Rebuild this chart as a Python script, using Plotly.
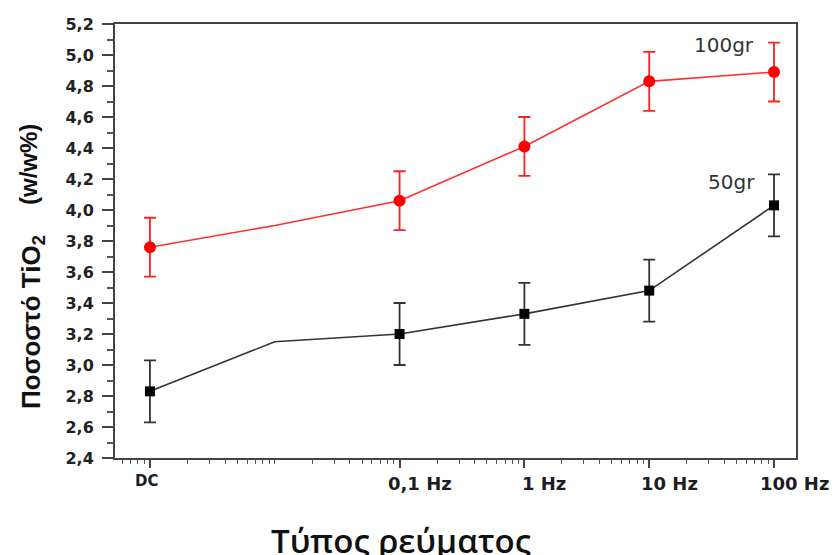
import math
import plotly.graph_objects as go

# ---- data ----
freq = [0.001, 0.1, 1, 10, 100]
tick_labels = ["DC", "0,1 Hz", "1 Hz", "10 Hz", "100 Hz"]
red_vals = [3.76, 4.06, 4.41, 4.83, 4.89]
red_err = [0.19, 0.19, 0.19, 0.19, 0.19]
black_vals = [2.83, 3.20, 3.33, 3.48, 4.03]
black_err = [0.20, 0.20, 0.20, 0.20, 0.20]
# line path (contains an intermediate vertex between DC and 0,1 Hz)
line_freq = [0.001, 0.01, 0.1, 1, 10, 100]
red_line = [3.76, 3.90, 4.06, 4.41, 4.83, 4.89]
black_line = [2.83, 3.15, 3.20, 3.33, 3.48, 4.03]
y_ticks = [2.4, 2.6, 2.8, 3.0, 3.2, 3.4, 3.6, 3.8, 4.0, 4.2, 4.4, 4.6, 4.8, 5.0, 5.2]

W, H = 834, 555
L, R, T, B = 115, 38, 24, 97
pw, ph = W - L - R, H - T - B


def px(x):
    return (x - L) / pw


def py(y):
    return (H - B - y) / ph


# minor tick positions of the log axis (k x 10^n)
minor_vals = []
for n in range(-4, 3):
    for k in range(1, 10):
        v = k * 10 ** n
        if v not in freq:
            minor_vals.append(v)

fig = go.Figure()
fig.add_trace(go.Scatter(x=line_freq, y=black_line, mode="lines",
                         line=dict(color="#333333", width=1.6), showlegend=False, hoverinfo="skip"))
fig.add_trace(go.Scatter(x=line_freq, y=red_line, mode="lines",
                         line=dict(color="#ff3030", width=1.6), showlegend=False, hoverinfo="skip"))
fig.add_trace(go.Scatter(x=freq, y=black_vals, mode="markers",
                         marker=dict(symbol="square", size=10, color="black"),
                         error_y=dict(type="data", array=black_err, color="#333333", thickness=1.8, width=6),
                         showlegend=False, name="50gr"))
fig.add_trace(go.Scatter(x=freq, y=red_vals, mode="markers",
                         marker=dict(symbol="circle", size=12, color="#ff0000"),
                         error_y=dict(type="data", array=red_err, color="#ff2020", thickness=1.8, width=6),
                         showlegend=False, name="100gr"))

annotations = []
# x tick labels (number centred on the tick, unit appended)
for f, lab in zip(freq, tick_labels):
    is_dc = lab == "DC"
    annotations.append(dict(
        x=math.log10(f), xref="x", y=0, yref="paper", text=lab, showarrow=False,
        xanchor="center", yanchor="middle", xshift=-3 if is_dc else 20,
        yshift=-23 if is_dc else -25,
        font=dict(family="DejaVu Sans", size=15 if is_dc else 18, color="#1c1c24", weight="bold"),
    ))

# series labels
annotations.append(dict(x=px(724), y=py(45), xref="paper", yref="paper", text="100gr",
                        showarrow=False, xanchor="center", yanchor="middle",
                        font=dict(family="DejaVu Sans", size=20, color="#333333")))
annotations.append(dict(x=px(731), y=py(182), xref="paper", yref="paper", text="50gr",
                        showarrow=False, xanchor="center", yanchor="middle",
                        font=dict(family="DejaVu Sans", size=20, color="#333333")))

# y-axis title parts
annotations.append(dict(x=px(32), y=py(322), xref="paper", yref="paper",
                        text="Ποσοστό TiO<sub>2</sub>", textangle=-90, showarrow=False,
                        xanchor="center", yanchor="middle",
                        font=dict(family="Liberation Sans", size=26, color="#111111", weight="bold")))
annotations.append(dict(x=px(28), y=py(165), xref="paper", yref="paper",
                        text="(w/w%)", textangle=-90, showarrow=False,
                        xanchor="center", yanchor="middle",
                        font=dict(family="Liberation Sans", size=24, color="#111111", weight="bold")))
# x-axis title (touching the bottom edge, as in the reference)
annotations.append(dict(x=px(401), y=py(540), xref="paper", yref="paper",
                        text="Τύπος ρεύματος", showarrow=False,
                        xanchor="center", yanchor="middle",
                        font=dict(family="Open Sans", size=33, color="#111111", weight=600)))

fig.update_layout(
    width=W, height=H,
    margin=dict(l=L, r=R, t=T, b=B),
    paper_bgcolor="white", plot_bgcolor="white",
    separators=", ",
    annotations=annotations,
)
fig.update_xaxes(
    type="log", range=[-3.28, 2.176],
    tickvals=freq, showticklabels=False,
    ticks="outside", ticklen=8, tickwidth=2, tickcolor="#444444",
    minor=dict(ticks="outside", ticklen=4, tickwidth=1.2, tickcolor="#555555",
               tickmode="array", tickvals=minor_vals),
    showline=True, linecolor="#444444", linewidth=2, mirror=True,
    showgrid=False, zeroline=False,
)
fig.update_yaxes(
    range=[2.4, 5.2], tickvals=y_ticks, tickformat=".1f",
    ticks="outside", ticklen=11, tickwidth=2, tickcolor="#444444",
    minor=dict(ticks="outside", ticklen=6, tickwidth=1.5, tickcolor="#555555", dtick=0.1),
    tickfont=dict(family="DejaVu Sans", size=16, color="#222222", weight="bold"),
    ticklabelstandoff=5,
    showline=True, linecolor="#444444", linewidth=2, mirror=True,
    showgrid=False, zeroline=False,
)

fig.write_html("out.html")
